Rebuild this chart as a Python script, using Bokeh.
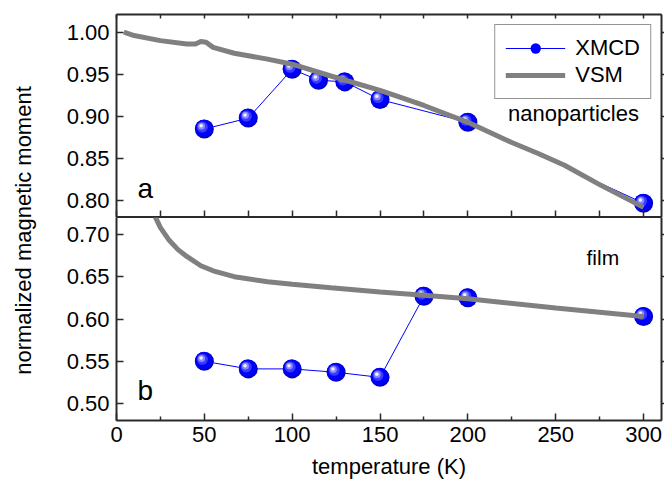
import math
from bokeh.plotting import figure
from bokeh.layouts import row, column
from bokeh.models import (Range1d, LinearAxis, FixedTicker, Label, Legend, LegendItem,
                          PrintfTickFormatter, CustomJSTickFormatter)
from bokeh.core.properties import value
from bokeh.embed import file_html
from bokeh.resources import INLINE

# ---------------- data ----------------
xmcd_nano_T = [50, 75, 100, 115, 130, 150, 200, 300]
xmcd_nano_m = [0.885, 0.898, 0.956, 0.943, 0.941, 0.920, 0.893, 0.797]

vsm_nano_T = [4.2, 10, 25, 40, 45, 48, 51, 55, 67, 86, 100, 122, 150, 175, 200, 225,
              240, 255, 275, 300]
vsm_nano_m = [1.000, 0.996, 0.990, 0.986, 0.986, 0.989, 0.988, 0.982, 0.975, 0.968,
              0.962, 0.948, 0.931, 0.913, 0.893, 0.869, 0.856, 0.842, 0.819, 0.792]

xmcd_film_T = [50, 75, 100, 125, 150, 175, 200, 300]
xmcd_film_m = [0.550, 0.541, 0.541, 0.537, 0.531, 0.627, 0.625, 0.603]

vsm_film_T = [22, 25, 30, 35, 40, 48, 55, 67, 86, 100, 122, 150, 175, 200, 250, 300]
vsm_film_m = [0.721, 0.708, 0.693, 0.682, 0.674, 0.663, 0.657, 0.650, 0.644, 0.641,
              0.637, 0.632, 0.628, 0.624, 0.613, 0.603]

x_major = [0, 50, 100, 150, 200, 250, 300]
x_minor = [25, 75, 125, 175, 225, 275]
y_ticks_top = [0.80, 0.85, 0.90, 0.95, 1.00]
y_ticks_bot = [0.50, 0.55, 0.60, 0.65, 0.70]

FONT = "Liberation Sans"
AX = "#2a2a2a"
FW, FH = 545, 203

xr = Range1d(0, 310.2)


def base_fig(yr, top, bottom):
    p = figure(frame_width=FW, frame_height=FH, x_range=xr, y_range=yr,
               min_border_left=71, min_border_right=3, min_border_top=top,
               min_border_bottom=bottom, toolbar_location=None, output_backend="svg",
               x_axis_type=None, y_axis_type=None)
    p.xgrid.visible = False
    p.ygrid.visible = False
    p.outline_line_color = AX
    p.outline_line_width = 1
    p.background_fill_color = "white"
    p.border_fill_color = "white"
    return p


def style_left(ax, ticks):
    ax.ticker = FixedTicker(ticks=ticks)
    ax.formatter = PrintfTickFormatter(format="%.2f")
    ax.major_tick_in = 7
    ax.major_tick_out = 0
    ax.minor_tick_line_color = None
    ax.axis_line_color = AX
    ax.axis_line_width = 2
    ax.major_tick_line_color = AX
    ax.major_tick_line_width = 1.5
    ax.major_label_text_font = FONT
    ax.major_label_text_font_size = "22px"
    ax.major_label_text_color = "black"
    ax.major_label_standoff = 7


def hidden_axis(ax, ticks, minor, tin, tout, lw):
    ax.ticker = FixedTicker(ticks=ticks, minor_ticks=minor)
    ax.formatter = CustomJSTickFormatter(code="return ''")
    ax.major_tick_in = tin
    ax.major_tick_out = tout
    ax.minor_tick_in = tin
    ax.minor_tick_out = tout
    ax.axis_line_color = AX
    ax.axis_line_width = lw
    ax.major_tick_line_color = AX
    ax.major_tick_line_width = 1.5
    ax.minor_tick_line_color = AX
    ax.minor_tick_line_width = 1.5
    ax.major_label_text_font_size = "1px"
    ax.major_label_standoff = 0


def spheres(p, xs, ys, yr):
    dx = (xr.end - xr.start) / FW
    dy = (yr.end - yr.start) / FH
    layers = [(19, "#0000c8", 0.0), (17, "#0000ff", 0.8), (11, "#3b3bff", 2.0),
              (7, "#8a8aff", 2.8), (3.5, "#f0f0ff", 3.2)]
    rs = []
    for size, col, off in layers:
        r = p.scatter([x - off * dx for x in xs], [y + off * dy for y in ys],
                      size=size, fill_color=col, line_color=None)
        rs.append(r)
    return rs


# ---------------- top panel (nanoparticles) ----------------
yr1 = Range1d(0.780, 1.021)
p1 = base_fig(yr1, 14, 0)
la1 = LinearAxis()
style_left(la1, y_ticks_top)
p1.add_layout(la1, "left")
ra1 = LinearAxis()
hidden_axis(ra1, y_ticks_top, [], 0, 3, 2)
p1.add_layout(ra1, "right")
ta1 = LinearAxis()
hidden_axis(ta1, x_major + x_minor, [], 4, 0, 2)
p1.add_layout(ta1, "above")
ba1 = LinearAxis()
hidden_axis(ba1, x_major, x_minor, 7, 0, 1)
p1.add_layout(ba1, "below")

l1 = p1.line(xmcd_nano_T, xmcd_nano_m, line_color="#0000ff", line_width=1)
s1 = spheres(p1, xmcd_nano_T, xmcd_nano_m, yr1)
v1 = p1.line(vsm_nano_T, vsm_nano_m, line_color="#808080", line_width=5)

legend = Legend(items=[LegendItem(label="XMCD", renderers=[l1, s1[1]]),
                       LegendItem(label="VSM", renderers=[v1])],
                location="top_right", margin=10, padding=10, spacing=1,
                glyph_width=60, glyph_height=26, label_standoff=10,
                label_text_font=FONT, label_text_font_size="22px",
                label_text_color="black", border_line_color=AX, border_line_width=1,
                background_fill_color="white", background_fill_alpha=1)
p1.add_layout(legend)

SH1 = 0.009
p1.add_layout(Label(x=222.9, y=0.895 + SH1, text="nanoparticles", text_font=FONT,
                    text_font_size="22px", text_baseline="alphabetic", text_color="black"))
p1.add_layout(Label(x=12, y=0.805 + SH1, text="a", text_font=FONT,
                    text_font_size="28px", text_baseline="alphabetic", text_color="black"))

# ---------------- bottom panel (film) ----------------
yr2 = Range1d(0.480, 0.720)
p2 = base_fig(yr2, 0, 69)
la2 = LinearAxis()
style_left(la2, y_ticks_bot)
p2.add_layout(la2, "left")
ra2 = LinearAxis()
hidden_axis(ra2, y_ticks_bot, [], 0, 3, 2)
p2.add_layout(ra2, "right")
bx = LinearAxis(axis_label="temperature (K)")
bx.ticker = FixedTicker(ticks=x_major, minor_ticks=x_minor)
bx.major_tick_in = 7
bx.major_tick_out = 0
bx.minor_tick_in = 4
bx.minor_tick_out = 0
bx.axis_line_color = AX
bx.axis_line_width = 2
bx.major_tick_line_color = AX
bx.major_tick_line_width = 1.5
bx.minor_tick_line_color = AX
bx.minor_tick_line_width = 1.5
bx.major_label_text_font = FONT
bx.major_label_text_font_size = "22px"
bx.major_label_text_color = "black"
bx.major_label_standoff = 6
bx.axis_label_text_font = FONT
bx.axis_label_text_font_size = "22px"
bx.axis_label_text_font_style = "normal"
bx.axis_label_text_color = "black"
bx.axis_label_standoff = 9
p2.add_layout(bx, "below")

p2.line(xmcd_film_T, xmcd_film_m, line_color="#0000ff", line_width=1)
spheres(p2, xmcd_film_T, xmcd_film_m, yr2)
p2.line(vsm_film_T, vsm_film_m, line_color="#808080", line_width=5)

SH2 = 0.0095
p2.add_layout(Label(x=267.5, y=0.663 + SH2, text="film", text_font=FONT,
                    text_font_size="21px", text_baseline="alphabetic", text_color="black"))
p2.add_layout(Label(x=12, y=0.506 + SH2, text="b", text_font=FONT,
                    text_font_size="28px", text_baseline="alphabetic", text_color="black"))

# ---------------- y-axis title strip ----------------
py = figure(width=45, height=489, x_range=Range1d(0, 1), y_range=Range1d(0, 489),
            min_border=0, toolbar_location=None, output_backend="svg",
            x_axis_type=None, y_axis_type=None)
py.outline_line_color = None
py.text(x=[0.5], y=[489 - 230], text=["normalized magnetic moment"], angle=math.pi / 2,
        text_align="center", text_baseline="middle", text_font=value(FONT),
        text_font_size="22px", text_color="black")

layout = row(py, column(p1, p2, spacing=0), spacing=0)

open("out.html", "w").write(file_html(layout, INLINE))
